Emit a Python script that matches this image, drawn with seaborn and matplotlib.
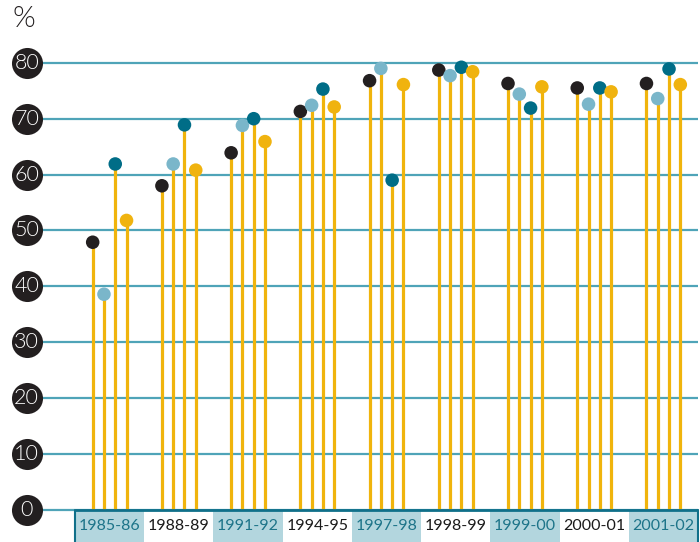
import matplotlib
matplotlib.use("Agg")
import matplotlib.pyplot as plt
from matplotlib.patches import Rectangle
import seaborn as sns
import pandas as pd
import numpy as np

categories = ["1985-86", "1988-89", "1991-92", "1994-95", "1997-98",
              "1998-99", "1999-00", "2000-01", "2001-02"]
series_names = ["A", "B", "C", "D"]
series_a = [47.9, 58.0, 63.9, 71.3, 76.8, 78.7, 76.3, 75.5, 76.3]
series_b = [38.6, 61.9, 68.8, 72.4, 79.0, 77.7, 74.4, 72.6, 73.6]
series_c = [61.9, 68.9, 70.0, 75.3, 59.0, 79.2, 71.9, 75.5, 78.9]
series_d = [51.8, 60.8, 65.9, 72.1, 76.1, 78.4, 75.7, 74.8, 76.1]
yticks = [0, 10, 20, 30, 40, 50, 60, 70, 80]
shaded = [True, False, True, False, True, False, True, False, True]

palette = {"A": "#231F20", "B": "#7AB6CA", "C": "#006D87", "D": "#F0B30F"}
stem_color = "#F0B40C"
grid_color = "#4FA4B8"
dark_line = "#10708A"
box_fill = "#B3D6DE"
shaded_text = "#1D7489"

sns.set_style("white")
plt.rcParams["font.family"] = ["Lato", "DejaVu Sans"]

rows = []
step = 0.163
for si, (name, vals) in enumerate(zip(series_names, [series_a, series_b, series_c, series_d])):
    for ci, v in enumerate(vals):
        rows.append({"x": ci + (si - 1.5) * step, "value": v, "series": name})
df = pd.DataFrame(rows)

fig = plt.figure(figsize=(7, 5.42), dpi=100)
ax = fig.add_axes([75 / 700, 1 - 510 / 542, (698 - 75) / 700, 510 / 542])
ax.set_xlim(-0.5, len(categories) - 0.5)
ax.set_ylim(0, 510 / 5.59)
for s in ax.spines.values():
    s.set_visible(False)

# gridlines and y tick circles
circle_x = (26.7 - 75) / 69.2 - 0.5
for t in yticks:
    ax.plot([circle_x, len(categories) - 0.5], [t, t], color=grid_color, lw=1.6,
            clip_on=False, zorder=1, solid_capstyle="butt")
ax.scatter([circle_x] * len(yticks), yticks, s=500, color="#231F20", zorder=5,
           clip_on=False, linewidths=0)
for t in yticks:
    ax.text(circle_x, t, str(t), color="white", fontsize=15.5, fontweight=300,
            ha="center", va="center", zorder=6, clip_on=False)

# stems
ax.vlines(df["x"], 0, df["value"], color=stem_color, lw=2.3, zorder=2)
# dots
sns.scatterplot(data=df, x="x", y="value", hue="series", palette=palette,
                s=95, linewidth=0, legend=False, ax=ax, zorder=4, clip_on=False)
ax.set_xlabel("")
ax.set_ylabel("")
ax.set_xticks([])
ax.set_yticks([])

# category label row
box_h = 32 / 5.59
for i, (cat, sh) in enumerate(zip(categories, shaded)):
    if sh:
        ax.add_patch(Rectangle((i - 0.5, -box_h - 1), 1, box_h + 1, facecolor=box_fill,
                               edgecolor="none", clip_on=False, zorder=1))
    ax.text(i, -box_h / 2, cat, ha="center", va="center", fontsize=11.5,
            color=shaded_text if sh else "#1a1a1a", clip_on=False, zorder=3)
ax.plot([-0.5, len(categories) - 0.5], [0, 0], color=dark_line, lw=2,
        clip_on=False, zorder=3, solid_capstyle="butt")
for xe in [-0.5, len(categories) - 0.5]:
    ax.plot([xe, xe], [0, -box_h - 1], color=dark_line, lw=1.5, clip_on=False, zorder=3)

fig.text(12 / 700, 1 - 19 / 542, "%", fontsize=21, fontweight=300,
         ha="left", va="center", color="#231F20")

fig.savefig("out.png", dpi=100)
